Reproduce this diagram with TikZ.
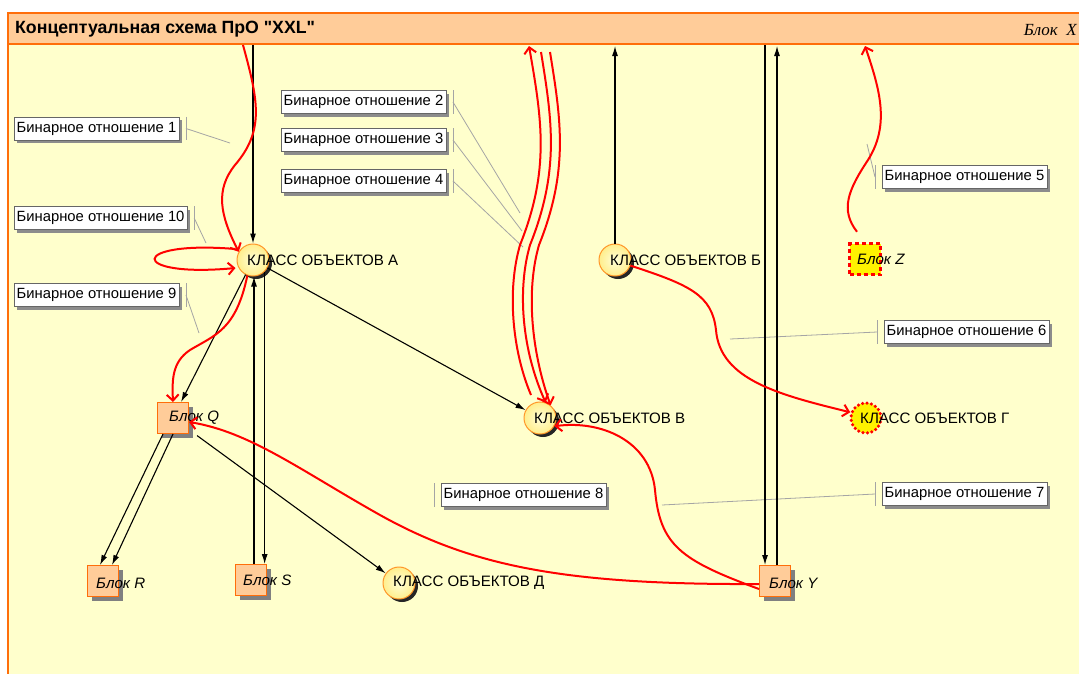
\documentclass[tikz,border=0pt]{standalone}
\usepackage{fontspec}
\setmainfont{Liberation Sans}[Ligatures=TeXOff]
\newfontfamily\serifx{Liberation Serif}[Ligatures=TeXOff]
\usetikzlibrary{arrows.meta,shadows,calc}
\definecolor{bodyyel}{RGB}{255,255,204}
\definecolor{peach}{RGB}{255,204,153}
\definecolor{frameor}{RGB}{255,110,10}
\definecolor{clsedge}{RGB}{255,150,40}
\definecolor{clsin}{RGB}{255,255,215}
\definecolor{clsout}{RGB}{255,238,140}
\definecolor{relred}{RGB}{255,0,0}
\definecolor{tickgray}{RGB}{165,165,165}

\begin{document}
\begin{tikzpicture}[x=1pt,y=-1pt,
  cls/.style={circle,minimum size=32pt,inner sep=0pt,draw=clsedge,line width=1pt,
    inner color=clsin,outer color=clsout,
    drop shadow={shadow xshift=3pt,shadow yshift=-3pt,fill=black!85,opacity=1}},
  blk/.style={rectangle,minimum size=31pt,inner sep=0pt,fill=peach,draw=frameor,line width=1pt,
    drop shadow={shadow xshift=4pt,shadow yshift=-4pt,fill=black!50,opacity=1}},
  hot/.style={fill=yellow,draw=relred,line width=3.5pt,line cap=round,dash pattern=on 0pt off 4.5pt},
  txt/.style={font=\fontsize{15.1}{18}\selectfont,inner sep=0pt,anchor=west},
  blktxt/.style={txt,font=\fontsize{15.1}{18}\selectfont\itshape},
  rel/.style={draw=black!60,fill=white,font=\fontsize{14.8}{17}\selectfont,inner sep=2.5pt,
    minimum height=23pt,anchor=west,
    drop shadow={shadow xshift=3pt,shadow yshift=-3pt,fill=black!45,opacity=1}},
  tick/.style={draw=tickgray,line width=0.8pt},
  arr/.style={line width=1.1pt,-{Latex[length=10pt,width=6pt]}},
  redarr/.style={draw=relred,line width=2pt,-{Straight Barb[length=6pt,width=12pt]}}]

\useasboundingbox (0,0) rectangle (1079,673);
\fill[white] (0,0) rectangle (1079,673);
\filldraw[fill=bodyyel,draw=frameor,line width=1.5pt] (8,13) rectangle (1090,690);
\filldraw[fill=peach,draw=frameor,line width=1.5pt] (8,13) rectangle (1090,44);
\node[font=\fontsize{17.7}{20}\selectfont\bfseries,anchor=west,inner sep=0pt] (title) at (15,29) {Концептуальная схема ПрО "XXL"};
\node[font=\serifx\itshape\fontsize{17}{20}\selectfont,anchor=east,inner sep=0pt] (blkx) at (1077,30) {Блок\enspace X};

% binary relation labels
\foreach \n/\x/\y in {1/14/128.5,2/281/102,3/281/140,4/281/181,10/14/218,9/14/295}{
  \node[rel] (rel\n) at (\x,\y) {Бинарное отношение \n};
  \draw[tick] ([xshift=7pt]rel\n.north east) -- ([xshift=7pt]rel\n.south east);
}
\foreach \n/\x/\y in {5/882/177,6/884/332,7/882/494,8/441/495}{
  \node[rel] (rel\n) at (\x,\y) {Бинарное отношение \n};
  \draw[tick] ([xshift=-7pt]rel\n.north west) -- ([xshift=-7pt]rel\n.south west);
}
\coordinate (e1) at (230,143);
\coordinate (e2) at (520,213);
\coordinate (e3) at (522,231);
\coordinate (e4) at (523,247);
\coordinate (e10) at (206,243);
\coordinate (e9) at (199,333);
\coordinate (e5) at (867,144);
\coordinate (e6) at (730,339);
\coordinate (e7) at (662,505);
\foreach \n in {1,2,3,4,10,9}
  \draw[tick] ([xshift=7pt]rel\n.east) -- (e\n);
\foreach \n in {5,6,7}
  \draw[tick] ([xshift=-7pt]rel\n.west) -- (e\n);

% classes and blocks
\node[cls] (clsA) at (253,260) {};
\node[txt] (tA) at ([xshift=-6pt]clsA.center) {КЛАСС ОБЪЕКТОВ А};
\node[cls] (clsB) at (615,260) {};
\node[txt] (tB) at ([xshift=-5pt]clsB.center) {КЛАСС ОБЪЕКТОВ Б};
\node[cls] (clsV) at (540,418) {};
\node[txt] (tV) at ([xshift=-6pt]clsV.center) {КЛАСС ОБЪЕКТОВ В};
\node[circle,minimum size=30pt,inner sep=0pt,hot] (clsG) at (866,418) {};
\node[txt] (tG) at ([xshift=-6pt]clsG.center) {КЛАСС ОБЪЕКТОВ Г};
\node[cls] (clsD) at (399,583) {};
\node[txt] (tD) at ([xshift=-6pt]clsD.center) {КЛАСС ОБЪЕКТОВ Д};

\node[blk] (blkQ) at (173,418) {};
\node[blktxt] (tQ) at ([xshift=-4pt]blkQ.center) {Блок Q};
\node[blk] (blkR) at (103,581) {};
\node[blktxt] (tR) at ([xshift=-7pt,yshift=-2pt]blkR.center) {Блок R};
\node[blk] (blkS) at (251,580) {};
\node[blktxt] (tS) at ([xshift=-8pt]blkS.center) {Блок S};
\node[blk] (blkY) at (775,581) {};
\node[blktxt] (tY) at ([xshift=-6pt,yshift=-2pt]blkY.center) {Блок Y};
\node[rectangle,minimum size=31pt,inner sep=0pt,hot,line cap=butt,dash pattern=on 4pt off 3pt] (blkZ) at (865,259) {};
\node[blktxt] (tZ) at ([xshift=-8pt]blkZ.center) {Блок Z};

% points on the title bar
\coordinate (topA) at (253,45);
\coordinate (topR) at (243,45);
\coordinate (topL) at (529,46);
\coordinate (topM) at (541,52);
\coordinate (topN) at (550,52);
\coordinate (topB) at (615,46);
\coordinate (topY1) at (765,45);
\coordinate (topY2) at (777,46);
\coordinate (topZ) at (865,46);

% black connectors
\draw[arr] (topA) -- (clsA.north);
\draw[arr] (clsA) -- (blkQ);
\draw[arr] (clsA) -- (clsV);
\draw[arr] ([xshift=3pt]blkS.north) -- ([xshift=1pt]clsA.south);
\draw[arr] (clsA.-45) -- (clsA.-45 |- blkS.north);
\draw[arr] ([xshift=-10pt]blkQ.south) -- ([xshift=-3pt]blkR.north);
\draw[arr] ([xshift=0pt]blkQ.south) -- ([xshift=9pt]blkR.north);
\draw[arr,shorten <=10pt] (blkQ) -- (clsD);
\draw[arr] (topY1) -- (topY1 |- blkY.north);
\draw[arr] (topY2 |- blkY.north) -- (topY2);
\draw[arr] (clsB.north) -- (topB);

% red connectors
\draw[redarr] (topR) .. controls (258,100) and (265,130) .. (235,165)
  .. controls (215,190) and (220,215) .. (clsA.150);
\draw[redarr] ([shift={(-1pt,11pt)}]clsA.west) .. controls (128,240) and (128,278) .. ([shift={(-1pt,-8pt)}]clsA.west);
\draw[redarr] (clsA.250) .. controls (236,330) and (215,335) .. (190,350)
  .. controls (172,362) and (172,380) .. (blkQ.north);
\draw[redarr] (531,395) .. controls (512,350) and (507,290) .. (520,245)
  .. controls (550,170) and (542,120) .. (topL);
\draw[redarr] (topM) .. controls (552,120) and (560,170) .. (530,245)
  .. controls (517,290) and (522,350) .. (clsV.70);
\draw[redarr] (topN) .. controls (561,120) and (569,170) .. (539,245)
  .. controls (526,290) and (531,350) .. (clsV.50);
\draw[redarr] ([shift={(-8pt,10pt)}]blkZ.north) .. controls (840,210) and (848,190) .. (868,160)
  .. controls (890,125) and (880,90) .. (topZ);
\draw[redarr] (clsB.-20) .. controls (690,285) and (712,295) .. (716,330)
  .. controls (720,380) and (780,395) .. (clsG.160);
\draw[redarr] ([yshift=-8pt]blkY.west) .. controls (680,560) and (660,545) .. (655,490)
  .. controls (650,440) and (600,420) .. (clsV.-30);
\draw[redarr] ([yshift=-3pt]blkY.west) .. controls (560,585) and (470,565) .. (380,515)
  .. controls (300,470) and (250,432) .. ([yshift=-4pt]blkQ.east);
\end{tikzpicture}
\end{document}
